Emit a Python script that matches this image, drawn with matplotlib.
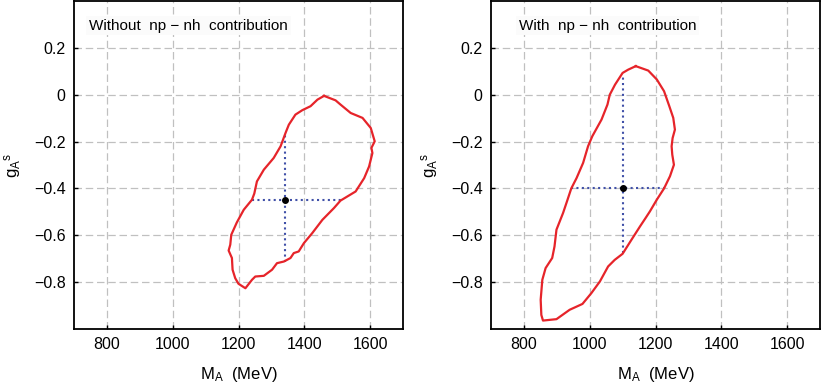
import matplotlib
matplotlib.use("Agg")
import matplotlib.pyplot as plt

plt.rcParams['font.family'] = ['Liberation Sans', 'DejaVu Sans']
plt.rcParams['mathtext.fontset'] = 'custom'
plt.rcParams['mathtext.rm'] = 'Liberation Sans'
plt.rcParams['mathtext.it'] = 'Liberation Sans'

# Left panel: without np-nh contribution (1-sigma contour)
left_MA = [1460, 1495, 1510, 1541, 1577, 1602, 1614, 1604, 1607, 1597, 1582, 1556,
           1510, 1490, 1455, 1424, 1399, 1383, 1368, 1358, 1338, 1317, 1302, 1277,
           1251, 1241, 1221, 1200, 1190, 1182, 1180, 1170, 1175, 1178, 1195, 1216,
           1241, 1248, 1256, 1277, 1307, 1328, 1343, 1353, 1373, 1394, 1419, 1440, 1460]
left_gA = [-0.005, -0.024, -0.042, -0.078, -0.099, -0.142, -0.199, -0.227, -0.249, -0.306,
           -0.356, -0.413, -0.452, -0.484, -0.534, -0.591, -0.633, -0.669, -0.676, -0.697,
           -0.712, -0.719, -0.747, -0.773, -0.776, -0.790, -0.826, -0.807, -0.783, -0.747,
           -0.697, -0.665, -0.640, -0.598, -0.545, -0.491, -0.448, -0.422, -0.370, -0.320,
           -0.270, -0.220, -0.163, -0.128, -0.085, -0.066, -0.049, -0.021, -0.005]
left_best = (1340, -0.45)
left_hrange = (1241, 1511)
left_vrange = (-0.712, -0.165)

# Right panel: with np-nh contribution
right_MA = [1140, 1178, 1204, 1226, 1242, 1254, 1259, 1252, 1249, 1251, 1256, 1244,
            1226, 1204, 1183, 1170, 1153, 1127, 1100, 1076, 1056, 1031, 1005, 978,
            939, 899, 858, 853, 851, 856, 866, 886, 893, 899, 919, 931, 944, 960,
            980, 995, 1008, 1036, 1054, 1061, 1077, 1100, 1117, 1140]
right_gA = [0.122, 0.103, 0.065, 0.015, -0.049, -0.099, -0.149, -0.185, -0.220, -0.256,
            -0.299, -0.348, -0.400, -0.448, -0.498, -0.526, -0.562, -0.619, -0.679, -0.705,
            -0.733, -0.797, -0.847, -0.893, -0.918, -0.958, -0.964, -0.940, -0.875, -0.790,
            -0.740, -0.697, -0.648, -0.576, -0.505, -0.455, -0.400, -0.356, -0.291, -0.220,
            -0.177, -0.106, -0.042, 0.000, 0.043, 0.093, 0.107, 0.122]
right_best = (1100, -0.40)
right_hrange = (944, 1226)
right_vrange = (-0.676, 0.082)

titles = ["Without  np \u2212 nh  contribution", "With  np \u2212 nh  contribution"]
xticks = [800, 1000, 1200, 1400, 1600]
yticks = [-0.8, -0.6, -0.4, -0.2, 0.0, 0.2]
yticklabels = ["\u22120.8", "\u22120.6", "\u22120.4", "\u22120.2", "0", "0.2"]

fig = plt.figure(figsize=(8.22, 3.84), dpi=100)
positions = [[74/822, 1-329/384, 329/822, 328/384],
             [491/822, 1-329/384, 329/822, 328/384]]
text_x = [0.046, 0.084]

panels = [(left_MA, left_gA, left_best, left_hrange, left_vrange),
          (right_MA, right_gA, right_best, right_hrange, right_vrange)]

red = '#e6242a'
blue = '#4050a8'

for i, (mx, gy, best, hr, vr) in enumerate(panels):
    ax = fig.add_axes(positions[i])
    ax.set_xlim(700, 1700)
    ax.set_ylim(-1.0, 0.4)
    ax.set_xticks(xticks)
    ax.set_yticks(yticks)
    ax.set_yticklabels(yticklabels)
    ax.grid(True, color='#c0c0c0', linestyle=(0, (6, 3)), linewidth=0.9, zorder=0)
    ax.set_axisbelow(True)
    ax.tick_params(direction='in', length=3, width=1, labelsize=11.5, pad=6,
                   top=False, right=False)
    for sp in ax.spines.values():
        sp.set_linewidth(1.3)
    ax.plot(mx, gy, color=red, lw=1.6, zorder=3)
    ax.plot([hr[0], hr[1]], [best[1], best[1]], color=blue, lw=1.5,
            linestyle=(0, (1, 1.6)), zorder=2)
    ax.plot([best[0], best[0]], [vr[0], vr[1]], color=blue, lw=1.5,
            linestyle=(0, (1, 1.6)), zorder=2)
    ax.plot([best[0]], [best[1]], 'o', color='black', ms=4, zorder=4)
    ax.text(text_x[i], 0.925, titles[i], transform=ax.transAxes, fontsize=11,
            va='center', ha='left', zorder=5,
            bbox=dict(facecolor='#fbfbfb', edgecolor='none', pad=2))
    ax.set_xlabel(r'$\mathregular{M_A}$  (MeV)', fontsize=12, labelpad=9)
    ax.set_ylabel(r'$\mathregular{g_A{}^s}$', fontsize=12, labelpad=8)

fig.savefig('out.png', dpi=100)
